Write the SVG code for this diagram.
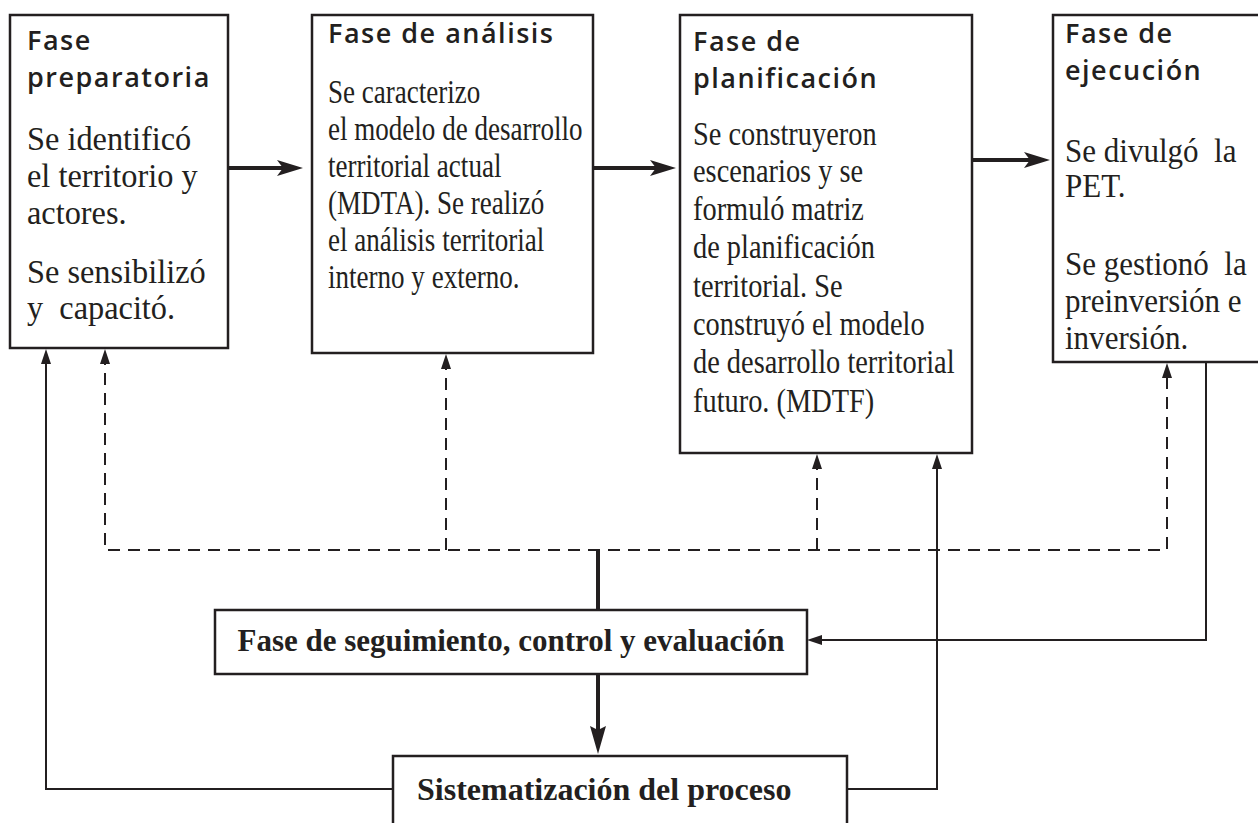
<svg xmlns="http://www.w3.org/2000/svg" width="1258" height="823" viewBox="0 0 1258 823">
<style>
.box{fill:#fff;stroke:#231f20;stroke-width:2.5}
.title{font-family:"Open Sans","DejaVu Sans",sans-serif;font-weight:600;font-size:27px;letter-spacing:1.5px;fill:#231f20}
.body{font-family:"Liberation Serif","Times New Roman",serif;font-size:33px;fill:#231f20}
.bold{font-family:"Liberation Serif","Times New Roman",serif;font-weight:bold;font-size:31px;fill:#231f20}
.thick{fill:none;stroke:#231f20;stroke-width:4}
.thin{fill:none;stroke:#231f20;stroke-width:2}
.dash{fill:none;stroke:#231f20;stroke-width:2;stroke-dasharray:12 8}
</style>
<defs>
<marker id="ahThick" viewBox="0 0 26 16" refX="13" refY="8" markerWidth="26" markerHeight="16" markerUnits="userSpaceOnUse" orient="auto"><path d="M0,0 L26,8 L0,16 L6,8 Z" fill="#231f20"/></marker>
<marker id="ahDown" viewBox="0 0 28 16" refX="14" refY="8" markerWidth="28" markerHeight="16" markerUnits="userSpaceOnUse" orient="auto"><path d="M0,0 L28,8 L0,16 L4,8 Z" fill="#231f20"/></marker>
<marker id="ahThin" viewBox="0 0 15 10" refX="11" refY="5" markerWidth="15" markerHeight="10" markerUnits="userSpaceOnUse" orient="auto-start-reverse"><path d="M0,0 L15,5 L0,10 Z" fill="#231f20"/></marker>
</defs>

<g id="connectors">
<line class="thick" x1="228" y1="168" x2="290" y2="168" marker-end="url(#ahThick)"/>
<line class="thick" x1="593" y1="168" x2="663" y2="168" marker-end="url(#ahThick)"/>
<line class="thick" x1="972" y1="160" x2="1037" y2="160" marker-end="url(#ahThick)"/>
<path class="dash" d="M105,353 V550 H1167 V367" marker-start="url(#ahThin)" marker-end="url(#ahThin)"/>
<path class="dash" d="M446,550 V358" marker-end="url(#ahThin)"/>
<path class="dash" d="M817,550 V458" marker-end="url(#ahThin)"/>
<line class="thick" x1="598" y1="550" x2="598" y2="610"/>
<line class="thick" x1="598" y1="674" x2="598" y2="740" marker-end="url(#ahDown)"/>
<path class="thin" d="M1206,362 V640 H811" marker-end="url(#ahThin)"/>
<path class="thin" d="M393,789 H46 V353" marker-end="url(#ahThin)"/>
<path class="thin" d="M847,789 H937 V458" marker-end="url(#ahThin)"/>
</g>

<g id="fase-preparatoria">
<rect class="box" x="10" y="15" width="218" height="333"/>
<text class="title"><tspan x="27" y="50">Fase</tspan><tspan x="27" y="87">preparatoria</tspan></text>
<g transform="translate(27,0) scale(0.98,1)">
<text class="body" x="0" y="150">Se identificó</text>
<text class="body" x="0" y="187">el territorio y</text>
<text class="body" x="0" y="224">actores.</text>
<text class="body" x="0" y="283">Se sensibilizó</text>
<text class="body" x="0" y="319" xml:space="preserve">y  capacitó.</text>
</g>
</g>

<g id="fase-analisis">
<rect class="box" x="312" y="15" width="281" height="338"/>
<text class="title" x="328" y="43">Fase de análisis</text>
<g transform="translate(328,0) scale(0.82,1)">
<text class="body" x="0" y="103">Se caracterizo</text>
<text class="body" x="0" y="140">el modelo de desarrollo</text>
<text class="body" x="0" y="177">territorial actual</text>
<text class="body" x="0" y="214">(MDTA). Se realizó</text>
<text class="body" x="0" y="251">el análisis territorial</text>
<text class="body" x="0" y="288">interno y externo.</text>
</g>
</g>

<g id="fase-planificacion">
<rect class="box" x="680" y="15" width="292" height="438"/>
<text class="title"><tspan x="693" y="51">Fase de</tspan><tspan x="693" y="88">planificación</tspan></text>
<g transform="translate(693,0) scale(0.86,1)">
<text class="body" x="0" y="145">Se construyeron</text>
<text class="body" x="0" y="182">escenarios y se</text>
<text class="body" x="0" y="220">formuló matriz</text>
<text class="body" x="0" y="258">de planificación</text>
<text class="body" x="0" y="297">territorial. Se</text>
<text class="body" x="0" y="335">construyó el modelo</text>
<text class="body" x="0" y="373">de desarrollo territorial</text>
<text class="body" x="0" y="412">futuro. (MDTF)</text>
</g>
</g>

<g id="fase-ejecucion">
<rect class="box" x="1053" y="15" width="215" height="347"/>
<text class="title"><tspan x="1065" y="43">Fase de</tspan><tspan x="1065" y="80">ejecución</tspan></text>
<g transform="translate(1065,0) scale(0.94,1)">
<text class="body" x="0" y="162" xml:space="preserve">Se divulgó  la</text>
<text class="body" x="0" y="197">PET.</text>
<text class="body" x="0" y="275" xml:space="preserve">Se gestionó  la</text>
<text class="body" x="0" y="312">preinversión e</text>
<text class="body" x="0" y="349">inversión.</text>
</g>
</g>

<g id="fase-seguimiento">
<rect class="box" x="215" y="610" width="592" height="64"/>
<text class="bold" x="511" y="651" text-anchor="middle">Fase de seguimiento, control y evaluación</text>
</g>

<g id="sistematizacion">
<rect class="box" x="393" y="756" width="454" height="80"/>
<text class="bold" x="417" y="800" style="font-size:32px">Sistematización del proceso</text>
</g>
</svg>
